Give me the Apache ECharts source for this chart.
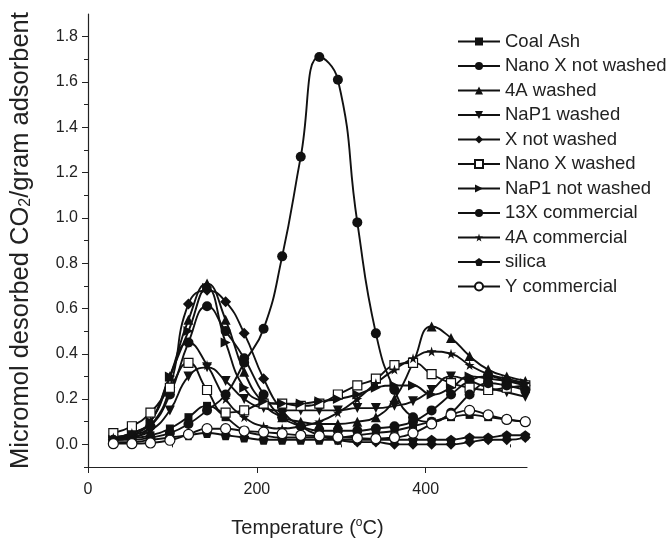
<!DOCTYPE html>
<html>
<head>
<meta charset="utf-8">
<script src="https://cdn.jsdelivr.net/npm/echarts@6/dist/echarts.min.js"></script>
<style>
  html, body { margin: 0; padding: 0; background: #fff; }
  #chart { width: 672px; height: 543px; }
</style>
</head>
<body>
<div id="chart"></div>
<script>
// temperatures of the sampled points (°C)
const temps = [30, 52, 74, 97, 119, 141, 163, 185, 208, 230, 252, 274, 296, 319, 341, 363, 385, 407, 430, 452, 474, 496, 518];

const coalAsh       = [0.03, 0.03, 0.04, 0.07, 0.12, 0.17, 0.12, 0.06, 0.04, 0.03, 0.03, 0.03, 0.03, 0.04, 0.05, 0.06, 0.08, 0.10, 0.12, 0.13, 0.12, 0.11, 0.10];
const nanoXNotWashed = [0.03, 0.04, 0.08, 0.22, 0.45, 0.61, 0.50, 0.38, 0.22, 0.12, 0.08, 0.06, 0.06, 0.06, 0.07, 0.08, 0.10, 0.15, 0.22, 0.28, 0.30, 0.28, 0.26];
const a4Washed      = [0.03, 0.05, 0.10, 0.30, 0.55, 0.71, 0.55, 0.32, 0.18, 0.12, 0.10, 0.09, 0.09, 0.10, 0.12, 0.20, 0.36, 0.52, 0.47, 0.39, 0.33, 0.30, 0.28];
const naP1Washed    = [0.02, 0.03, 0.06, 0.15, 0.30, 0.34, 0.28, 0.20, 0.16, 0.15, 0.15, 0.15, 0.15, 0.16, 0.16, 0.17, 0.19, 0.24, 0.30, 0.28, 0.25, 0.23, 0.21];
const xNotWashed    = [0.02, 0.03, 0.08, 0.25, 0.62, 0.68, 0.63, 0.49, 0.29, 0.15, 0.08, 0.04, 0.02, 0.01, 0.01, 0.00, 0.00, 0.00, 0.00, 0.01, 0.02, 0.02, 0.03];
const nanoXWashed   = [0.05, 0.08, 0.14, 0.25, 0.36, 0.24, 0.14, 0.15, 0.18, 0.18, 0.17, 0.18, 0.22, 0.26, 0.29, 0.35, 0.36, 0.31, 0.27, 0.25, 0.24, 0.25, 0.26];
const naP1NotWashed = [0.02, 0.04, 0.10, 0.30, 0.50, 0.69, 0.45, 0.25, 0.19, 0.18, 0.18, 0.19, 0.20, 0.22, 0.25, 0.26, 0.26, 0.22, 0.25, 0.30, 0.29, 0.28, 0.27];
const x13Commercial = [0.02, 0.02, 0.03, 0.05, 0.09, 0.15, 0.22, 0.36, 0.51, 0.83, 1.27, 1.71, 1.61, 0.98, 0.49, 0.24, 0.12, 0.10, 0.14, 0.22, 0.27, 0.26, 0.24];
const a4Commercial  = [0.03, 0.05, 0.10, 0.30, 0.45, 0.35, 0.20, 0.12, 0.08, 0.07, 0.08, 0.10, 0.14, 0.20, 0.27, 0.33, 0.38, 0.41, 0.40, 0.35, 0.31, 0.29, 0.27];
const silica        = [0.01, 0.01, 0.02, 0.03, 0.04, 0.05, 0.04, 0.03, 0.02, 0.02, 0.02, 0.02, 0.02, 0.02, 0.02, 0.02, 0.02, 0.02, 0.02, 0.03, 0.03, 0.04, 0.04];
const yCommercial   = [0.003, 0.003, 0.006, 0.018, 0.044, 0.069, 0.069, 0.059, 0.054, 0.047, 0.040, 0.037, 0.032, 0.028, 0.025, 0.030, 0.050, 0.090, 0.130, 0.150, 0.130, 0.110, 0.100];

const yLabelValues = [0, 0.2, 0.4, 0.6, 0.8, 1.0, 1.2, 1.4, 1.6, 1.8];
const yMinorValues = [-0.1, 0.1, 0.3, 0.5, 0.7, 0.9, 1.1, 1.3, 1.5, 1.7];
const xLabelValues = [0, 200, 400];
const xMinorValues = [100, 300, 500];

const STAR = 'path://M50,0 L61,35 L98,35 L68,57 L79,91 L50,70 L21,91 L32,57 L2,35 L39,35 Z';
const DOWN = 'path://M0,0 L100,0 L50,90 Z';
const RIGHT = 'path://M0,0 L90,50 L0,100 Z';
const PENT = 'path://M50,0 L98,36 L80,95 L20,95 L2,36 Z';

function mk(name, vals, symbol, open, size) {
  return {
    name: name,
    type: 'line',
    smooth: 0.5,
    data: temps.map((t, i) => [t, vals[i]]),
    symbol: symbol,
    symbolSize: size || 9,
    lineStyle: { color: '#111', width: 1.9 },
    itemStyle: { color: open ? '#fff' : '#111', borderColor: '#111', borderWidth: open ? 1.2 : 0 },
    emphasis: { disabled: true }
  };
}

const chart = echarts.init(document.getElementById('chart'));
chart.setOption({
  animation: false,
  backgroundColor: '#fff',
  textStyle: { fontFamily: 'Liberation Sans, Arial, sans-serif' },
  grid: { left: 87, top: 14, right: 145, bottom: 75 },
  legend: {
    orient: 'vertical',
    left: 452, top: 27,
    itemWidth: 42, itemHeight: 10, itemGap: 5.5,
    textStyle: { fontSize: 18.5, color: '#222', lineHeight: 18 },
    data: ['Coal Ash', 'Nano X not washed', '4A washed', 'NaP1 washed', 'X not washed', 'Nano X washed',
           'NaP1 not washed', '13X commercial', '4A commercial', 'silica', 'Y commercial']
  },
  xAxis: [{
    type: 'value', min: 0, max: 520,
    name: 'Temperature ({sup|o}C)', nameLocation: 'middle', nameGap: 50,
    nameTextStyle: { fontSize: 20, color: '#222', rich: { sup: { fontSize: 12, verticalAlign: 'top', padding: [0, 0, 10, 0], color: '#222' } } },
    axisLine: { onZero: false, lineStyle: { color: '#222', width: 1.2 } },
    axisTick: { customValues: xLabelValues, length: 6, lineStyle: { color: '#222' } },
    axisLabel: { customValues: xLabelValues, fontSize: 16, color: '#222', margin: 15 },
    splitLine: { show: false }
  }, {
    type: 'value', min: 0, max: 520, position: 'bottom',
    axisLine: { show: false },
    axisTick: { customValues: xMinorValues, length: 3, lineStyle: { color: '#222' } },
    axisLabel: { show: false }, splitLine: { show: false }
  }],
  yAxis: [{
    type: 'value', min: -0.1, max: 1.9,
    name: 'Micromol desorbed CO{sub|2}/gram adsorbent', nameLocation: 'middle', nameGap: 54,
    nameTextStyle: { fontSize: 25.5, color: '#222', rich: { sub: { fontSize: 16, verticalAlign: 'bottom', padding: [10, 0, 0, 0], color: '#222' } } },
    axisLine: { onZero: false, lineStyle: { color: '#222', width: 1.2 } },
    axisTick: { customValues: yLabelValues, length: 6, lineStyle: { color: '#222' } },
    axisLabel: { customValues: yLabelValues, fontSize: 16, color: '#222', margin: 10, formatter: v => v.toFixed(1) },
    splitLine: { show: false }
  }, {
    type: 'value', min: -0.1, max: 1.9, position: 'left',
    axisLine: { show: false },
    axisTick: { customValues: yMinorValues, length: 4, lineStyle: { color: '#222' } },
    axisLabel: { show: false }, splitLine: { show: false }
  }],
  series: [
    mk('Coal Ash', coalAsh, 'rect', false, 8),
    mk('Nano X not washed', nanoXNotWashed, 'circle', false, 10),
    mk('4A washed', a4Washed, 'triangle', false, 10),
    mk('NaP1 washed', naP1Washed, DOWN, false, 10),
    mk('X not washed', xNotWashed, 'diamond', false, 11),
    mk('Nano X washed', nanoXWashed, 'rect', true, 9),
    mk('NaP1 not washed', naP1NotWashed, RIGHT, false, 10),
    mk('13X commercial', x13Commercial, 'circle', false, 10),
    mk('4A commercial', a4Commercial, STAR, false, 10),
    mk('silica', silica, PENT, false, 10),
    mk('Y commercial', yCommercial, 'circle', true, 10)
  ]
});
</script>
</body>
</html>
